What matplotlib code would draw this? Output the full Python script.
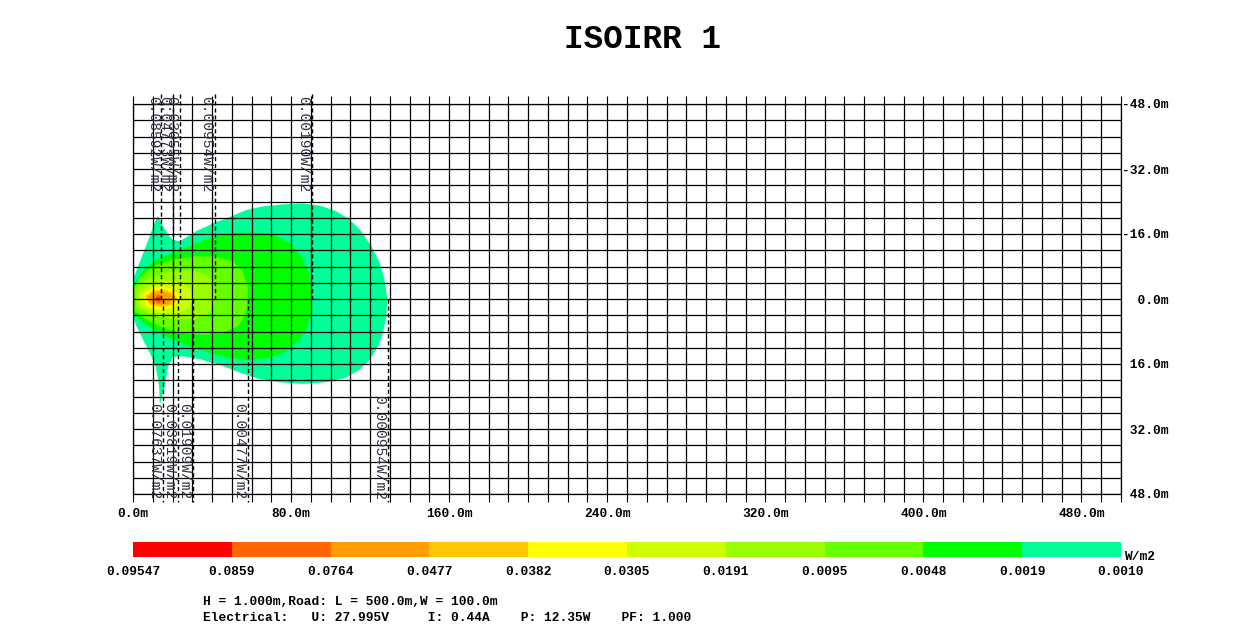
import matplotlib
matplotlib.use("Agg")
import matplotlib.pyplot as plt
import numpy as np

# colour scale (W/m2), high to low
scale_labels = ["0.09547", "0.0859", "0.0764", "0.0477", "0.0382", "0.0305",
                "0.0191", "0.0095", "0.0048", "0.0019", "0.0010"]
band_colors = ["#FF0000", "#FF6600", "#FFA000", "#FFC800", "#FFFF00",
               "#CCFF00", "#99FF00", "#66FF00", "#00FF00", "#00FF99"]

# iso-lines, (x, y) in metres, outermost first
iso_0010_x = [0, 0, 4.2, 8.4, 10.5, 12.6, 15.2, 18.5, 20.2, 23.6, 32.0, 40.5, 48.9, 57.3, 65.8,
              75.9, 86.0, 94.4, 102.9, 109.6, 115.5, 120.6, 124.8, 127.3, 128.7, 128.2, 126.5,
              124.0, 119.7, 114.7, 107.1, 97.8, 86.0, 74.2, 64.1, 54.0, 43.8, 33.7, 25.3, 20.2,
              17.7, 16.0, 13.6, 13.2, 11.5, 9.3, 5.1, 1.7]
iso_0010_y = [4.3, -4.8, -10.1, -15.4, -18.3, -20.5, -17.9, -15.4, -14.6, -14.2, -16.7, -18.6,
              -20.2, -21.9, -22.8, -23.3, -23.5, -23.0, -21.6, -19.6, -16.7, -13.0, -8.9, -4.8,
              0, 4.3, 8.4, 11.7, 15.0, 17.4, 19.5, 20.5, 20.9, 20.5, 19.7, 18.1, 16.2, 14.8,
              14.1, 14.3, 16.6, 21.5, 26.0, 21.5, 16.6, 14.1, 10.0, 6.7]
iso_0019_x = [0, 5.1, 11.8, 20.2, 30.4, 40.5, 50.6, 60.7, 70.8, 79.3, 85.2, 89.0, 90.7, 90.2,
              87.7, 83.5, 77.6, 69.1, 59.0, 48.9, 38.8, 28.7, 18.5, 10.1, 3.4, 0]
iso_0019_y = [-3.1, -7.2, -9.7, -11.3, -13.4, -15.3, -16.3, -16.4, -15.9, -13.8, -10.5, -6.4,
              -0.7, 3.5, 7.6, 10.4, 12.9, 14.5, 15.1, 14.5, 13.3, 11.7, 9.6, 7.6, 5.1, 3.5]
iso_0048_x = [0, 3.4, 10.1, 20.2, 32.0, 42.2, 50.6, 55.6, 58.0, 58.2, 57.0, 53.1, 45.5, 35.4,
              25.3, 15.2, 6.7, 0]
iso_0048_y = [-2.3, -5.2, -8.1, -9.7, -10.5, -10.4, -9.3, -6.8, -3.1, 0.2, 3.9, 6.7, 8.4, 8.8,
              8.4, 7.1, 5.1, 2.6]
iso_0095_x = [1.7, 8.4, 18.5, 28.7, 36.3, 40.5, 41.5, 40.8, 37.1, 28.7, 18.5, 8.4, 1.7]
iso_0095_y = [-2.7, -5.2, -6.8, -7.1, -6.2, -4.4, -1.5, 1.8, 3.9, 4.9, 4.9, 3.9, 1.8]
iso_0191_x = [3.4, 8.4, 16.9, 25.3, 29.5, 30.0, 28.7, 21.9, 13.5, 6.7, 3.4]
iso_0191_y = [-1.5, -3.3, -4.4, -3.9, -2.3, 0.2, 2.2, 3.5, 3.5, 2.6, 1.4]
iso_0305_x = [5.1, 9.3, 15.2, 21.1, 23.6, 22.8, 18.5, 11.8, 6.7]
iso_0305_y = [-1.1, -2.7, -3.1, -2.1, -0.7, 1.0, 2.2, 2.5, 1.6]
iso_0382_x = [5.9, 10.1, 16.0, 21.1, 22.6, 20.2, 14.3, 8.4]
iso_0382_y = [-0.7, -2.1, -2.3, -1.3, 0.2, 1.5, 2.0, 1.4]
iso_0477_x = [6.7, 10.1, 15.2, 19.4, 20.2, 18.5, 13.5, 8.8]
iso_0477_y = [-0.2, -1.6, -1.9, -1.1, 0, 1.2, 1.5, 1.0]
iso_0764_x = [11.0, 12.6, 14.3, 15.0, 13.8, 11.8]
iso_0764_y = [-0.5, -1.1, -0.7, 0.2, 1.0, 1.0]
iso_0859_x = [11.8, 12.8, 14.3, 12.8]
iso_0859_y = [-0.2, -0.5, 0, 0.5]

iso_shapes = [(iso_0010_x, iso_0010_y), (iso_0019_x, iso_0019_y), (iso_0048_x, iso_0048_y),
              (iso_0095_x, iso_0095_y), (iso_0191_x, iso_0191_y), (iso_0305_x, iso_0305_y),
              (iso_0382_x, iso_0382_y), (iso_0477_x, iso_0477_y), (iso_0764_x, iso_0764_y),
              (iso_0859_x, iso_0859_y)]

# furthest reach of each iso-line, marked with a dashed line
mark_top_labels = ["0.08592W/m2", "0.04773W/m2", "0.03055W/m2", "0.00954W/m2", "0.00190W/m2"]
mark_top_x = [14.3, 20.1, 23.7, 41.4, 90.4]
mark_bot_labels = ["0.07637W/m2", "0.03819W/m2", "0.01909W/m2", "0.00477W/m2", "0.000954W/m2"]
mark_bot_x = [15.0, 22.7, 30.2, 58.0, 128.9]

x_label_pos = [0, 80, 160, 240, 320, 400, 480]
x_labels = ["0.0m", "80.0m", "160.0m", "240.0m", "320.0m", "400.0m", "480.0m"]
y_label_pos = [-48, -32, -16, 0, 16, 32, 48]
y_labels = ["-48.0m", "-32.0m", "-16.0m", "  0.0m", " 16.0m", " 32.0m", " 48.0m"]

road_len = 500
road_half = 48

MONO = "Liberation Mono"
W, H = 1233, 640
fig = plt.figure(figsize=(W / 100, H / 100), dpi=100)
ax = fig.add_axes([133 / W, 1 - 494 / H, 988 / W, 390 / H])

# filled iso-lines, outer to inner
for (xs, ys), col in zip(iso_shapes, band_colors[::-1]):
    ax.fill(xs, ys, color=col, lw=0, zorder=1)

ax.set_xlim(0, road_len)
ax.set_ylim(road_half, -road_half)

ax.set_xticks(x_label_pos)
ax.set_xticklabels(x_labels, fontfamily=MONO, fontweight="bold", fontsize=9.3)
ax.set_xticks(np.arange(0, road_len + 1, 10), minor=True)
ax.tick_params(axis="x", which="both", direction="out", length=5.8, width=0.8,
               top=True, bottom=True, pad=4.5)

ax.yaxis.tick_right()
ax.set_yticks(y_label_pos)
ax.set_yticklabels(y_labels, fontfamily=MONO, fontweight="bold", fontsize=9.3)
ax.set_yticks(np.arange(-road_half, road_half + 1, 4), minor=True)
ax.tick_params(axis="y", which="both", length=0, pad=1)

ax.grid(which="both", color="black", lw=0.9, zorder=2)
ax.set_axisbelow(False)
for sp in ax.spines.values():
    sp.set_linewidth(0.9)

# dashed reach lines and their labels
for lab, xv in zip(mark_top_labels, mark_top_x):
    ax.plot([xv, xv], [-road_half - 2.5, 0], ls=(0, (3, 2)), color="black", lw=1,
            clip_on=False, zorder=3)
    ax.annotate(lab, xy=(xv, -road_half), xytext=(-1, 6), textcoords="offset points",
                rotation=-90, ha="right", va="top", fontfamily=MONO, fontsize=10.5,
                color="#303040", zorder=4, annotation_clip=False)
for lab, xv in zip(mark_bot_labels, mark_bot_x):
    ax.plot([xv, xv], [0, road_half + 2], ls=(0, (3, 2)), color="black", lw=1,
            clip_on=False, zorder=3)
    ax.annotate(lab, xy=(xv, road_half), xytext=(-1, -4), textcoords="offset points",
                rotation=-90, ha="right", va="bottom", fontfamily=MONO, fontsize=10.5,
                color="#303040", zorder=4, annotation_clip=False)

# colour scale bar
cb = fig.add_axes([133 / W, 1 - 557 / H, 988 / W, 15 / H])
cb.bar(np.arange(len(band_colors)), np.ones(len(band_colors)), width=1, align="edge",
       color=band_colors, lw=0)
cb.set_xlim(0, len(band_colors))
cb.set_ylim(0, 1)
cb.set_xticks(np.arange(len(scale_labels)))
cb.set_xticklabels(scale_labels, fontfamily=MONO, fontweight="bold", fontsize=9.3)
cb.tick_params(axis="x", length=0, pad=6.5)
cb.set_yticks([])
for sp in cb.spines.values():
    sp.set_visible(False)
fig.text(1124 / W, 1 - 557 / H, "W/m2", ha="left", va="center",
         fontfamily=MONO, fontweight="bold", fontsize=9.3)

fig.text(643 / W, 1 - 39 / H, "ISOIRR 1", ha="center", va="center",
         fontfamily=MONO, fontweight="bold", fontsize=23.5)

fig.text(203 / W, 1 - 602 / H, "H = 1.000m,Road: L = 500.0m,W = 100.0m",
         ha="left", va="center", fontfamily=MONO, fontweight="bold", fontsize=9.3)
fig.text(203 / W, 1 - 618 / H,
         "Electrical:   U: 27.995V     I: 0.44A    P: 12.35W    PF: 1.000",
         ha="left", va="center", fontfamily=MONO, fontweight="bold", fontsize=9.3)

fig.savefig("out.png", dpi=100)
